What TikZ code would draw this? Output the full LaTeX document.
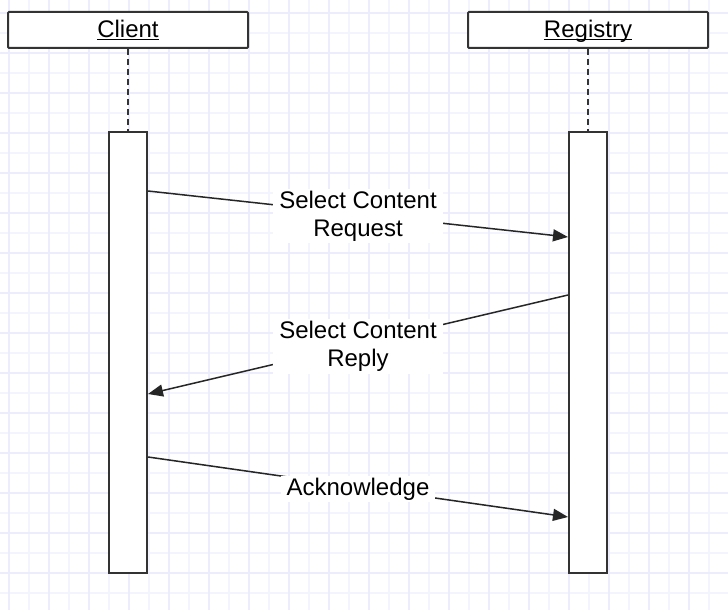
\documentclass[tikz,border=0pt]{standalone}
\usepackage{fontspec}
\setmainfont{Liberation Sans}
\usetikzlibrary{arrows.meta}
\definecolor{gridminor}{HTML}{F4F4FF}
\definecolor{gridmajor}{HTML}{ECECFD}
\definecolor{edge}{HTML}{333333}
\begin{document}
\begin{tikzpicture}[x=1pt,y=-1pt,
  lbl/.style={font=\fontsize{24}{28}\selectfont},
  headbox/.style={draw=edge,line width=2pt,fill=white,minimum width=240pt,minimum height=36pt,inner sep=0pt,text height=16pt,text depth=0pt,rounded corners=1pt,lbl},
  actbox/.style={draw=edge,line width=2pt,fill=white,minimum width=38pt,minimum height=441pt,inner sep=0pt},
  lifeline/.style={draw=edge,line width=2pt,dash pattern=on 6pt off 4pt},
  msg/.style={draw=black!85,line width=1.5pt,-{Triangle[length=15pt,width=12pt]}},
  msglbl/.style={lbl,fill=white,align=center,inner xsep=6pt,inner ysep=2pt,yshift=-2pt}]
  % canvas and grid
  \useasboundingbox (0,0) rectangle (728,610);
  \fill[white] (0,0) rectangle (728,610);
  \foreach \x in {29,69,...,709} \draw[gridminor,line width=1.4pt] (\x,0) -- (\x,610);
  \foreach \y in {33,73,...,593} \draw[gridminor,line width=1.4pt] (0,\y) -- (728,\y);
  \foreach \x in {9,49,...,689} \draw[gridmajor,line width=1.4pt] (\x,0) -- (\x,610);
  \foreach \y in {13,53,...,573} \draw[gridmajor,line width=1.4pt] (0,\y) -- (728,\y);

  % participants
  \node[headbox] (client) at (128,30) {\underline{\smash{Client}}};
  \node[headbox] (registry) at (588,30) {\underline{\smash{Registry}}};
  \node[actbox] (cact) at (128,352.5) {};
  \node[actbox] (ract) at (588,352.5) {};
  \draw[lifeline] (client.south) -- (cact.north);
  \draw[lifeline] (registry.south) -- (ract.north);

  % message anchors on the activation bars
  \path (cact.north east) ++(0,60) coordinate (reqs);
  \path (ract.north west) ++(0,106) coordinate (reqe);
  \path (ract.north west) ++(0,164) coordinate (reps);
  \path (cact.north east) ++(0,263) coordinate (repe);
  \path (cact.north east) ++(0,326) coordinate (acks);
  \path (ract.north west) ++(0,386) coordinate (acke);

  % messages
  \draw[msg] (reqs) -- node[msglbl] (reqlbl) {Select Content\\Request} (reqe);
  \draw[msg] (reps) -- node[msglbl] (replbl) {Select Content\\Reply} (repe);
  \draw[msg] (acks) -- node[msglbl] (acklbl) {Acknowledge} (acke);
\end{tikzpicture}
\end{document}
